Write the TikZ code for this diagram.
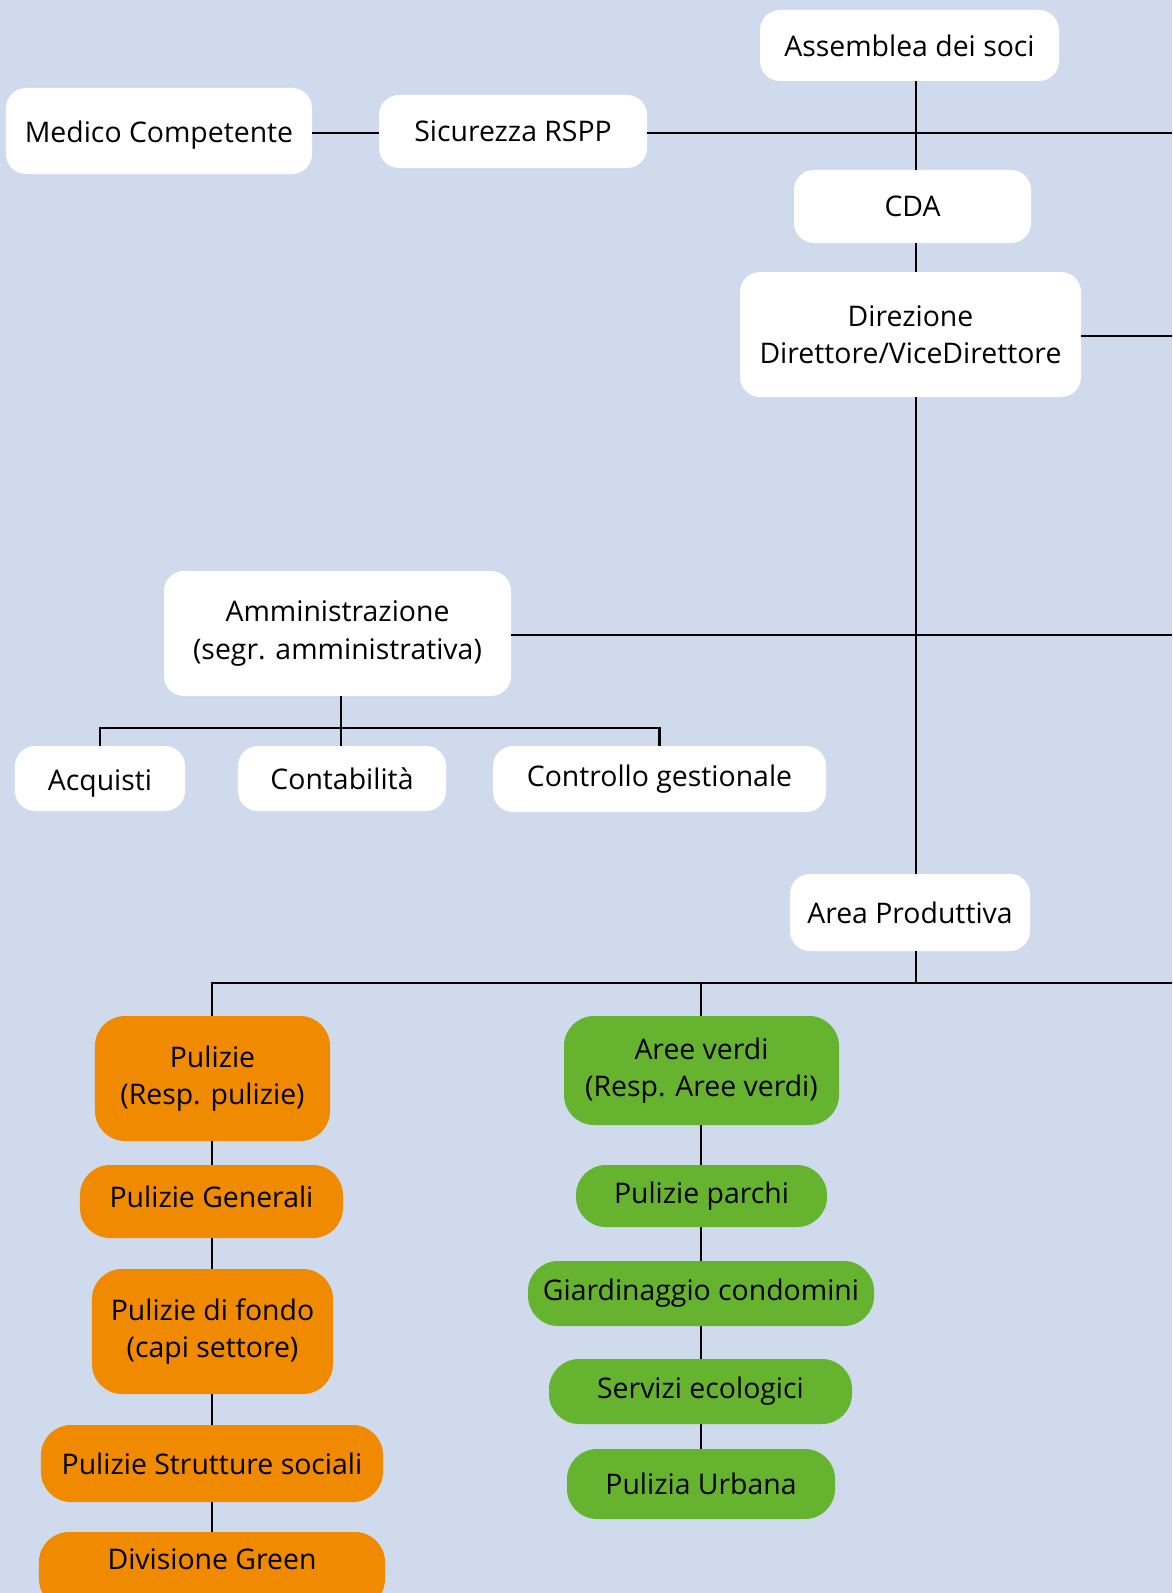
\documentclass[tikz,border=0pt]{standalone}
\usepackage{fontspec}
\setmainfont{Open Sans}
\definecolor{bgc}{HTML}{CFDBEC}
\definecolor{orangec}{HTML}{F08A00}
\definecolor{greenc}{HTML}{66B32F}
\begin{document}
\begin{tikzpicture}[x=1bp,y=-1bp,
  box/.style={rectangle, rounded corners=20bp, fill=white, align=center, inner sep=0pt,
    font=\fontsize{28.5}{37.5}\selectfont, text=black},
  obox/.style={box, fill=orangec, rounded corners=30bp},
  gbox/.style={box, fill=greenc, rounded corners=30bp},
  sz/.style 2 args={minimum width=#1bp, minimum height=#2bp},
  conn/.style={line width=2.5bp, black}]
\fill[bgc] (0,0) rectangle (1172,1593);
\useasboundingbox (0,0) rectangle (1172,1593);
\clip (0,0) rectangle (1172,1593);

% reference coordinates for connector lines
\coordinate (sp) at (916,0);
\coordinate (oc) at (212,0);
\coordinate (gx) at (701,0);
\coordinate (re1) at (1172,133);
\coordinate (re2) at (1172,336);
\coordinate (re3) at (1172,635);
\coordinate (ab) at (341,728);
\coordinate (pb) at (1172,983);

% nodes
\node[box, sz={299}{71}] (ass) at (909.5,45.5) {Assemblea dei soci};
\node[box, sz={306}{86}, text height=30bp, text depth=7bp] (med) at (159,131) {Medico Competente};
\node[box, sz={268}{73}] (rspp) at (513,131.5) {Sicurezza RSPP};
\node[box, sz={237}{73}] (cda) at (912.5,206.5) {CDA};
\node[box, sz={341}{125}] (dir) at (910.5,334.5) {Direzione\\Direttore/ViceDirettore};
\node[box, sz={347}{125}] (amm) at (337.5,633.5) {Amministrazione\\(segr. amministrativa)};
\node[box, sz={170}{65}, text height=31bp, text depth=7bp] (acq) at (100,778.5) {Acquisti};
\node[box, sz={208}{65}] (cont) at (342,778.5) {Contabilità};
\node[box, sz={333}{66}] (ctrl) at (659.5,779) {Controllo gestionale};
\node[box, sz={240}{77}] (area) at (910,912.5) {Area Produttiva};

\node[obox, sz={235}{125}] (pul) at (212.5,1078.5) {Pulizie\\(Resp. pulizie)};
\node[obox, sz={263}{73}, text depth=10bp] (pgen) at (211.5,1201.5) {Pulizie Generali};
\node[obox, sz={241}{125}] (pfon) at (212.5,1331.5) {Pulizie di fondo\\(capi settore)};
\node[obox, sz={342}{77}] (pstr) at (212,1463.5) {Pulizie Strutture sociali};
\node[obox, sz={346}{77}, text depth=23bp] (pgrn) at (212,1570.5) {Divisione Green};

\node[gbox, sz={275}{109}] (av) at (701.5,1070.5) {Aree verdi\\(Resp. Aree verdi)};
\node[gbox, sz={251}{62}] (pp) at (701.5,1196) {Pulizie parchi};
\node[gbox, sz={346}{65}] (gc) at (701,1293.5) {Giardinaggio condomini};
\node[gbox, sz={303}{65}] (se) at (700.5,1391.5) {Servizi ecologici};
\node[gbox, sz={268}{70}] (pu) at (701,1484) {Pulizia Urbana};

% top part
\draw[conn] (ass.south -| sp) -- (cda.north -| sp);
\draw[conn] (cda.south -| sp) -- (dir.north -| sp);
\draw[conn] (med.east |- re1) -- (rspp.west |- re1);
\draw[conn] (rspp.east |- re1) -- (re1);
\draw[conn] (dir.east |- re2) -- (re2);
\draw[conn] (dir.south -| sp) -- (area.north -| sp);
\draw[conn] (amm.east |- re3) -- (re3);

% administration
\draw[conn] (amm.south -| ab) -- (cont.north -| ab);
\draw[conn] (acq.north) -- (acq.north |- ab) -- (ctrl.north |- ab) -- (ctrl.north);

% production area
\draw[conn] (area.south -| sp) -- (sp |- pb);
\draw[conn] (pul.north -| oc) -- (oc |- pb) -- (pb);
\draw[conn] (av.north -| gx) -- (gx |- pb);

% orange column
\draw[conn] (pul.south -| oc) -- (pgen.north -| oc);
\draw[conn] (pgen.south -| oc) -- (pfon.north -| oc);
\draw[conn] (pfon.south -| oc) -- (pstr.north -| oc);
\draw[conn] (pstr.south -| oc) -- (pgrn.north -| oc);

% green column
\draw[conn] (av.south -| gx) -- (pp.north -| gx);
\draw[conn] (pp.south -| gx) -- (gc.north -| gx);
\draw[conn] (gc.south -| gx) -- (se.north -| gx);
\draw[conn] (se.south -| gx) -- (pu.north -| gx);
\end{tikzpicture}
\end{document}
